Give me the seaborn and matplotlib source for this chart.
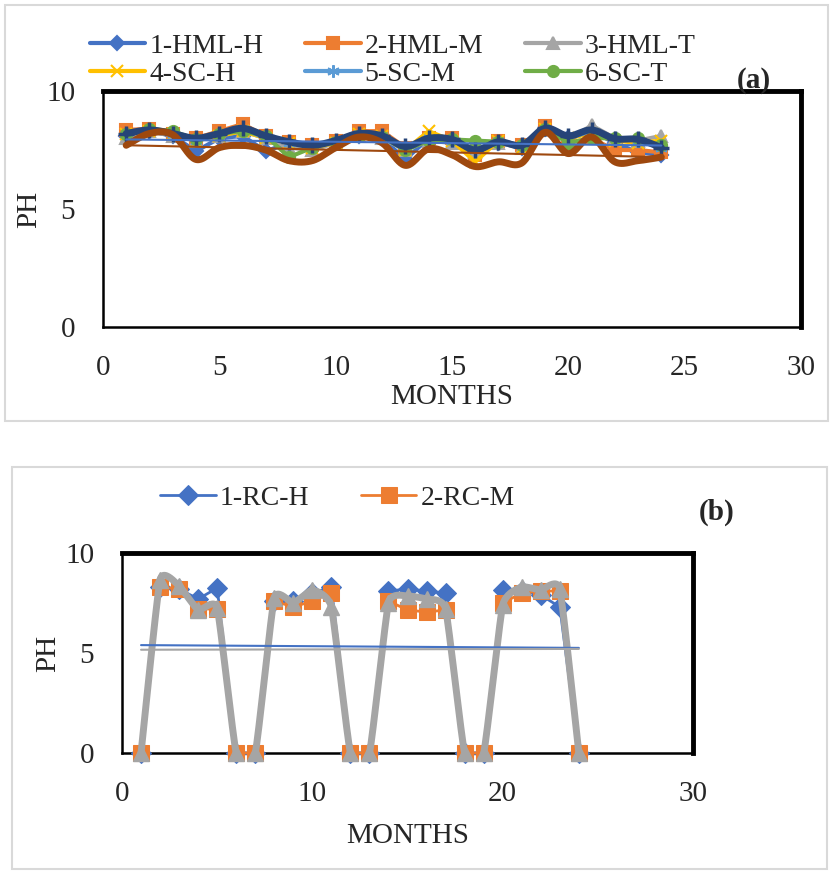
import numpy as np
import pandas as pd
import matplotlib
matplotlib.use("Agg")
import matplotlib.pyplot as plt
from matplotlib.patches import Rectangle
import seaborn as sns

# -----------------------------
# Data
# -----------------------------
months = list(range(1, 25))

# panel (a)
hml_h = [8.1, 8.3, 8.1, 7.45, 8.0, 8.1, 7.45, 7.8, 7.6, 7.8, 8.1, 8.0,
         7.1, 8.0, 7.9, 7.3, 7.8, 7.6, 8.4, 8.0, 8.3, 7.8, 7.4, 7.3]
hml_m = [8.35, 8.4, 8.2, 8.0, 8.3, 8.6, 8.1, 7.85, 7.7, 7.9, 8.3, 8.3,
         7.6, 8.0, 8.0, 7.3, 7.9, 7.7, 8.5, 7.8, 8.0, 7.5, 7.5, 7.4]
hml_t = [8.0, 8.3, 8.1, 7.9, 8.1, 8.3, 8.0, 7.6, 7.5, 7.8, 8.1, 8.0,
         7.5, 7.9, 7.8, 7.4, 7.8, 7.6, 8.4, 7.9, 8.55, 8.0, 7.9, 8.1]
sc_h = [8.2, 8.3, 8.2, 7.9, 8.1, 8.3, 8.0, 7.8, 7.6, 7.8, 8.2, 8.1,
        7.5, 8.3, 7.9, 7.0, 7.9, 7.6, 8.4, 8.0, 8.2, 7.9, 7.8, 7.9]
sc_m = [8.2, 8.35, 8.2, 7.9, 8.2, 8.4, 8.0, 7.8, 7.7, 7.9, 8.2, 8.1,
        7.6, 8.0, 7.9, 7.5, 7.9, 7.7, 8.4, 8.0, 8.3, 8.0, 7.9, 7.6]
sc_t = [8.2, 8.4, 8.3, 7.95, 8.2, 8.3, 8.1, 7.2, 7.6, 7.85, 8.1, 8.05,
        7.5, 7.9, 7.95, 7.9, 7.85, 7.7, 8.4, 7.8, 8.0, 8.0, 8.0, 7.7]
# two extra (unlabelled) smoothed series
extra_navy = [8.2, 8.35, 8.2, 8.0, 8.2, 8.42, 8.1, 7.85, 7.7, 7.9, 8.2, 8.1,
              7.65, 8.0, 7.95, 7.5, 7.85, 7.7, 8.42, 8.1, 8.35, 7.98, 7.95, 7.6]
extra_brown = [7.7, 8.2, 8.15, 7.1, 7.6, 7.7, 7.5, 7.05, 7.05, 7.6, 8.05, 7.8,
               6.85, 7.55, 7.3, 6.8, 7.0, 6.95, 8.25, 7.35, 8.05, 7.0, 7.05, 7.2]

# panel (b)
rc_h = [0, 8.3, 8.2, 7.7, 8.25, 0, 0, 7.6, 7.6, 8.0, 8.3, 0,
        0, 8.1, 8.2, 8.1, 8.0, 0, 0, 8.15, 8.1, 7.9, 7.3, 0]
rc_m = [0, 8.3, 8.2, 7.2, 7.2, 0, 0, 7.6, 7.3, 7.6, 8.0, 0,
        0, 7.6, 7.15, 7.05, 7.15, 0, 0, 7.5, 8.0, 8.1, 8.1, 0]
rc_t = [0, 8.65, 8.35, 7.15, 7.25, 0, 0, 7.75, 7.5, 8.15, 7.3, 0,
        0, 7.5, 7.85, 7.7, 7.2, 0, 0, 7.4, 8.3, 8.15, 8.2, 0]

C_BLUE, C_ORANGE, C_GRAY = "#4472C4", "#ED7D31", "#A5A5A5"
C_GOLD, C_LBLUE, C_GREEN = "#FFC000", "#5B9BD5", "#70AD47"
C_NAVY, C_BROWN = "#264478", "#9E480E"


def smooth(x, y, tension=1.0, n=24):
    # Excel-like smoothed line (cardinal spline through the points)
    x = np.asarray(x, float)
    y = np.asarray(y, float)
    px = np.concatenate([[x[0]], x, [x[-1]]])
    py = np.concatenate([[y[0]], y, [y[-1]]])
    t = np.linspace(0, 1, n, endpoint=False)
    h00 = 2 * t ** 3 - 3 * t ** 2 + 1
    h10 = t ** 3 - 2 * t ** 2 + t
    h01 = -2 * t ** 3 + 3 * t ** 2
    h11 = t ** 3 - t ** 2
    xs, ys = [], []
    for i in range(1, len(px) - 2):
        for p, out in ((px, xs), (py, ys)):
            p0, p1, p2, p3 = p[i - 1], p[i], p[i + 1], p[i + 2]
            m1 = tension * (p2 - p0) / 2
            m2 = tension * (p3 - p1) / 2
            out.extend(h00 * p1 + h10 * m1 + h01 * p2 + h11 * m2)
    xs.append(x[-1])
    ys.append(y[-1])
    return np.array(xs), np.array(ys)


sns.set_style("white")
plt.rcParams["font.family"] = ["Liberation Serif", "DejaVu Serif"]
FS = 21

fig = plt.figure(figsize=(8.3, 8.72), dpi=100)

# light grey panel borders
fig.patches.append(Rectangle((0.006, 0.517), 0.992, 0.477, transform=fig.transFigure,
                             fill=False, edgecolor="#D9D9D9", lw=1.5))
fig.patches.append(Rectangle((0.0145, 0.004), 0.982, 0.46, transform=fig.transFigure,
                             fill=False, edgecolor="#D9D9D9", lw=1.5))


def style_axes(ax, xticks, lab_pad):
    ax.set_xlim(0, 30)
    ax.set_ylim(0, 10)
    ax.set_xticks(xticks)
    ax.set_yticks([0, 5, 10])
    ax.tick_params(axis="both", length=0, labelsize=FS, pad=20)
    ax.set_xlabel("MONTHS", fontsize=FS, labelpad=lab_pad)
    ax.set_ylabel("PH", fontsize=FS, labelpad=3)
    for side in ["top", "right"]:
        ax.spines[side].set_linewidth(3.5)
        ax.spines[side].set_color("black")
    for side in ["left", "bottom"]:
        ax.spines[side].set_linewidth(1.8)
        ax.spines[side].set_color("black")
    ax.grid(False)


# -----------------------------
# Panel (a)
# -----------------------------
ax1 = fig.add_axes([0.124, 0.625, 0.841, 0.2706])
series_a = [
    ("1-HML-H", hml_h, C_BLUE, "D", 7),
    ("2-HML-M", hml_m, C_ORANGE, "s", 8),
    ("3-HML-T", hml_t, C_GRAY, "^", 8),
    ("4-SC-H", sc_h, C_GOLD, "x", 9),
    ("5-SC-M", sc_m, C_LBLUE, (6, 2, 0), 9),
    ("6-SC-T", sc_t, C_GREEN, "o", 8),
]
for name, vals, col, mk, ms in series_a:
    sns.lineplot(x=months, y=vals, ax=ax1, color=col, marker=mk, markersize=ms,
                 markeredgecolor=col, markeredgewidth=1.5, linewidth=3,
                 label=name, zorder=3)

sx, sy = smooth(months, extra_navy)
ax1.plot(sx, sy, color=C_NAVY, lw=5, zorder=4, solid_capstyle="round")
ax1.plot(months, extra_navy, ls="none", marker="+", ms=11, mew=2.5,
         color=C_NAVY, zorder=4)
bx, by = smooth(months, extra_brown)
ax1.plot(bx, by, color=C_BROWN, lw=5, zorder=5, solid_capstyle="round")

sns.regplot(x=months, y=hml_h, ax=ax1, scatter=False, ci=None, truncate=True,
            line_kws=dict(color=C_BLUE, lw=1.5, zorder=6))
sns.regplot(x=months, y=extra_brown, ax=ax1, scatter=False, ci=None, truncate=True,
            line_kws=dict(color=C_BROWN, lw=1.5, zorder=6))

style_axes(ax1, [0, 5, 10, 15, 20, 25, 30], 2)
h1, l1 = ax1.get_legend_handles_labels()
ax1.get_legend().remove()
order = [0, 3, 1, 4, 2, 5]  # fill legend row by row
fig.legend([h1[i] for i in order], [l1[i] for i in order], loc="upper left",
           bbox_to_anchor=(0.108, 0.962), ncol=3, frameon=False, fontsize=20,
           handlelength=2.0, handletextpad=0.15, columnspacing=1.5,
           labelspacing=0.1, borderpad=0, borderaxespad=0)
fig.text(0.908, 0.908, "(a)", fontsize=FS, fontweight="bold", ha="center", va="center")

# -----------------------------
# Panel (b)
# -----------------------------
ax2 = fig.add_axes([0.147, 0.1365, 0.688, 0.2293])
sns.lineplot(x=months, y=rc_h, ax=ax2, color=C_BLUE, marker="D", markersize=10,
             markeredgecolor=C_BLUE, linewidth=2, label="1-RC-H", zorder=3)
sns.lineplot(x=months, y=rc_m, ax=ax2, color=C_ORANGE, marker="s", markersize=11,
             markeredgecolor=C_ORANGE, linewidth=2, label="2-RC-M", zorder=3)
gx, gy = smooth(months, rc_t, tension=0.45)
ax2.plot(gx, gy, color=C_GRAY, lw=5, zorder=4)
ax2.plot(months, rc_t, ls="none", marker="^", ms=12, color=C_GRAY, zorder=4,
         clip_on=False)

sns.regplot(x=months, y=rc_h, ax=ax2, scatter=False, ci=None, truncate=True,
            line_kws=dict(color=C_BLUE, lw=1.5, zorder=6))
sns.regplot(x=months, y=rc_t, ax=ax2, scatter=False, ci=None, truncate=True,
            line_kws=dict(color=C_GRAY, lw=1.5, zorder=6))
for line in ax2.lines:
    if line.get_marker() in ("s", "D"):
        line.set_clip_on(False)

style_axes(ax2, [0, 10, 20, 30], 12)
h2, l2 = ax2.get_legend_handles_labels()
ax2.get_legend().remove()
fig.legend(h2[:2], l2[:2], loc="upper left", bbox_to_anchor=(0.193, 0.443),
           ncol=2, frameon=False, fontsize=20, handlelength=2.0,
           handletextpad=0.15, columnspacing=1.85, borderpad=0, borderaxespad=0)
fig.text(0.864, 0.412, "(b)", fontsize=FS, fontweight="bold", ha="center", va="center")

fig.savefig("out.png", dpi=100)
plt.close(fig)
